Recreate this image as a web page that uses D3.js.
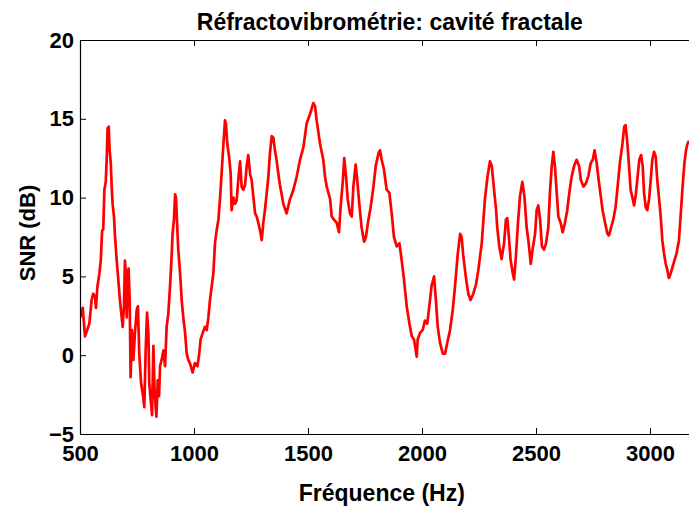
<!DOCTYPE html>
<html>
<head>
<meta charset="utf-8">
<script src="https://cdn.jsdelivr.net/npm/d3@7"></script>
<style>
  html, body { margin: 0; padding: 0; background: #fff; }
  svg { display: block; }
  text { font-family: "Liberation Sans", Arial, Helvetica, sans-serif; font-weight: bold; fill: #000; }
</style>
</head>
<body>
<svg id="chart" width="689" height="506"></svg>
<script>
// Measured SNR of the fractal cavity, frequency in Hz and SNR in dB
const freqHz = [
  500, 503, 512, 522, 529, 541, 551, 558, 566, 570, 576, 585, 591, 597, 602, 607, 613, 617, 621, 626,
  630, 635, 639, 643, 649, 653, 661, 668, 675, 683, 687, 693, 697, 702, 705, 709, 713, 718, 722, 728,
  734, 741, 749, 754, 760, 768, 775, 782, 788, 794, 800, 804, 810, 816, 822, 827, 835, 841, 847, 851,
  858, 866, 873, 880, 887, 895, 902, 906, 912, 917, 921, 925, 931, 939, 946, 953, 961, 968, 975, 982,
  994, 1004, 1015, 1023, 1029, 1038, 1048, 1056, 1063, 1070, 1078, 1085, 1092, 1099, 1107, 1114, 1121, 1129, 1136, 1140,
  1146, 1154, 1161, 1165, 1173, 1180, 1187, 1194, 1202, 1209, 1216, 1224, 1231, 1238, 1246, 1253, 1260, 1268, 1275, 1282,
  1290, 1297, 1304, 1311, 1319, 1326, 1333, 1341, 1348, 1355, 1363, 1370, 1377, 1392, 1406, 1421, 1436, 1450, 1465, 1480,
  1494, 1509, 1523, 1531, 1538, 1553, 1567, 1575, 1582, 1597, 1604, 1614, 1626, 1636, 1643, 1652, 1659, 1667, 1674, 1684,
  1692, 1699, 1709, 1716, 1725, 1735, 1746, 1754, 1765, 1775, 1787, 1797, 1809, 1816, 1823, 1833, 1845, 1857, 1867, 1877,
  1889, 1901, 1911, 1921, 1933, 1945, 1955, 1965, 1977, 1981, 1991, 2003, 2013, 2023, 2032, 2042, 2053, 2061, 2069, 2079,
  2091, 2101, 2111, 2123, 2135, 2145, 2156, 2167, 2174, 2181, 2192, 2203, 2213, 2225, 2237, 2247, 2262, 2276, 2287, 2298,
  2306, 2316, 2325, 2330, 2339, 2349, 2360, 2368, 2374, 2380, 2389, 2398, 2404, 2412, 2421, 2430, 2440, 2449, 2459, 2468,
  2477, 2485, 2496, 2503, 2510, 2518, 2526, 2535, 2544, 2554, 2561, 2569, 2576, 2583, 2591, 2598, 2608, 2617, 2627, 2637,
  2646, 2656, 2667, 2678, 2689, 2697, 2708, 2719, 2730, 2740, 2749, 2757, 2766, 2775, 2784, 2792, 2803, 2813, 2820, 2829,
  2839, 2849, 2858, 2868, 2879, 2887, 2893, 2901, 2908, 2915, 2923, 2930, 2937, 2944, 2953, 2961, 2968, 2974, 2981, 2988,
  2996, 3003, 3010, 3018, 3025, 3032, 3040, 3047, 3054, 3061, 3069, 3076, 3083, 3091, 3099, 3107, 3117, 3127, 3136, 3143,
  3151, 3158, 3164, 3171
];
const snrDb = [
  2.4, 2.5, 3.0, 1.2, 1.5, 2.0, 3.5, 3.9, 3.7, 3.0, 4.3, 5.2, 6.0, 7.9, 8.0, 10.5, 11.0, 12.4, 14.4, 14.5,
  13.0, 12.2, 10.7, 9.6, 8.8, 7.7, 6.0, 4.8, 3.5, 2.4, 1.8, 3.1, 6.0, 5.0, 2.4, 4.4, 5.5, 3.5, -1.4, 1.6,
  -0.3, 1.4, 2.9, 3.1, 0.1, -1.8, -2.4, -3.3, 0.3, 2.7, 1.4, -1.8, -2.8, -3.8, 0.6, -2.2, -3.9, -1.6, -2.6, -0.7,
  -0.3, 0.3, -0.7, 1.8, 2.6, 4.4, 6.3, 7.7, 8.6, 10.2, 10.0, 8.6, 6.7, 5.2, 3.5, 2.4, 1.4, 0.1, -0.3, -0.5,
  -1.1, -0.5, -0.7, 0.1, 1.0, 1.4, 1.8, 1.6, 2.4, 3.5, 4.4, 5.2, 7.1, 7.9, 8.6, 9.9, 11.5, 13.4, 14.9, 14.7,
  13.4, 12.6, 11.5, 9.2, 10.0, 9.6, 9.8, 11.1, 12.3, 10.7, 10.5, 10.8, 12.0, 12.7, 11.5, 11.1, 10.1, 9.0, 8.8, 8.4,
  7.9, 7.3, 8.4, 9.2, 10.3, 11.3, 12.8, 13.9, 13.8, 13.0, 12.3, 11.5, 10.8, 9.6, 9.0, 9.9, 10.5, 11.3, 12.4, 13.2,
  14.7, 15.3, 16.0, 15.8, 14.9, 13.4, 12.4, 11.3, 10.7, 9.9, 8.8, 8.6, 8.4, 7.8, 9.4, 10.9, 12.5, 11.3, 9.9, 9.0,
  8.8, 10.7, 12.1, 11.1, 9.6, 8.1, 7.2, 7.5, 8.6, 9.4, 10.7, 12.0, 12.8, 13.0, 12.4, 11.8, 10.5, 10.3, 9.0, 7.5,
  6.9, 7.1, 6.0, 4.8, 3.1, 2.0, 1.2, 1.0, -0.1, 1.0, 1.4, 1.6, 2.2, 2.0, 3.1, 4.4, 5.0, 3.5, 1.8, 0.8,
  0.1, 0.1, 0.8, 1.6, 2.9, 4.4, 6.3, 7.7, 7.5, 6.3, 5.0, 3.9, 3.5, 3.9, 4.5, 5.4, 7.1, 9.9, 11.3, 12.3,
  12.0, 10.5, 9.2, 8.1, 6.9, 6.1, 7.1, 8.6, 8.7, 7.7, 6.0, 5.2, 4.8, 6.3, 8.4, 10.1, 11.0, 10.1, 8.1, 7.1,
  5.8, 6.7, 7.7, 9.2, 9.5, 8.6, 6.9, 6.7, 7.1, 8.1, 10.3, 12.0, 12.9, 12.0, 10.3, 8.8, 8.4, 7.8, 8.4, 9.2,
  10.3, 11.3, 12.0, 12.4, 12.0, 11.1, 10.7, 10.9, 11.4, 12.2, 12.4, 13.0, 12.2, 11.1, 10.1, 9.2, 8.4, 7.7, 7.6, 8.1,
  8.6, 9.4, 10.7, 12.2, 13.4, 14.5, 14.6, 13.4, 12.0, 10.5, 10.0, 9.5, 10.1, 11.1, 12.4, 12.7, 12.0, 10.3, 9.4, 9.2,
  9.9, 11.1, 12.4, 12.9, 12.6, 11.1, 9.9, 8.8, 7.3, 6.5, 5.8, 5.4, 4.9, 5.2, 5.6, 6.0, 6.5, 7.3, 9.2, 10.7,
  12.2, 13.0, 13.4, 13.6
];
const xTicks = [500, 1000, 1500, 2000, 2500, 3000];
const yTicks = [-5, 0, 5, 10, 15, 20];
const titleText = "Réfractovibrométrie: cavité fractale";
const xLabel = "Fréquence (Hz)";
const yLabel = "SNR (dB)";

const svg = d3.select("#chart");
const plotLeft = 80, plotTop = 40, plotBottom = 434;
const plotRight = plotLeft + (3200 - 500) * 0.228;

const x = d3.scaleLinear().domain([500, 3200]).range([plotLeft, plotRight]);
const y = d3.scaleLinear().domain([-5, 20]).range([plotBottom, plotTop]);

svg.append("defs").append("clipPath").attr("id", "plotArea")
  .append("rect")
  .attr("x", plotLeft).attr("y", plotTop)
  .attr("width", plotRight - plotLeft).attr("height", plotBottom - plotTop);

// SNR curve
const line = d3.line().x((d, i) => x(freqHz[i])).y(d => y(d));
svg.append("path")
  .datum(snrDb)
  .attr("clip-path", "url(#plotArea)")
  .attr("fill", "none")
  .attr("stroke", "#ff0000")
  .attr("stroke-width", 2.7)
  .attr("stroke-linejoin", "round")
  .attr("d", line);

// Box axes with inward ticks
function styleAxis(g) {
  g.selectAll(".domain").attr("stroke", "#000").attr("stroke-width", 1.2);
  g.selectAll(".tick line").attr("stroke", "#000").attr("stroke-width", 1);
  g.selectAll(".tick text")
    .attr("fill", "#000")
    .style("font-family", "'Liberation Sans', Arial, Helvetica, sans-serif")
    .style("font-weight", "bold")
    .style("font-size", "22px");
}

svg.append("g")
  .attr("transform", `translate(0,${plotBottom})`)
  .call(d3.axisBottom(x).tickValues(xTicks).tickSizeInner(-6).tickSizeOuter(0).tickPadding(11).tickFormat(d3.format("d")))
  .call(styleAxis);

svg.append("g")
  .attr("transform", `translate(0,${plotTop})`)
  .call(d3.axisTop(x).tickValues(xTicks).tickSizeInner(-6).tickSizeOuter(0).tickFormat(""))
  .call(styleAxis);

svg.append("g")
  .attr("transform", `translate(${plotLeft},0)`)
  .call(d3.axisLeft(y).tickValues(yTicks).tickSizeInner(-6).tickSizeOuter(0).tickPadding(6).tickFormat(d3.format("d")))
  .call(styleAxis);

svg.append("g")
  .attr("transform", `translate(${plotRight},0)`)
  .call(d3.axisRight(y).tickValues(yTicks).tickSizeInner(-6).tickSizeOuter(0).tickFormat(""))
  .call(styleAxis);

// Title and axis labels
svg.append("text")
  .attr("x", (plotLeft + plotRight) / 2 + 2).attr("y", 30)
  .attr("text-anchor", "middle")
  .style("font-size", "23px")
  .text(titleText);

svg.append("text")
  .attr("x", (plotLeft + plotRight) / 2 - 6).attr("y", 501)
  .attr("text-anchor", "middle")
  .style("font-size", "23px")
  .text(xLabel);

svg.append("text")
  .attr("transform", `translate(35,${(plotTop + plotBottom) / 2 - 4}) rotate(-90)`)
  .attr("text-anchor", "middle")
  .style("font-size", "22px")
  .text(yLabel);
</script>
</body>
</html>
